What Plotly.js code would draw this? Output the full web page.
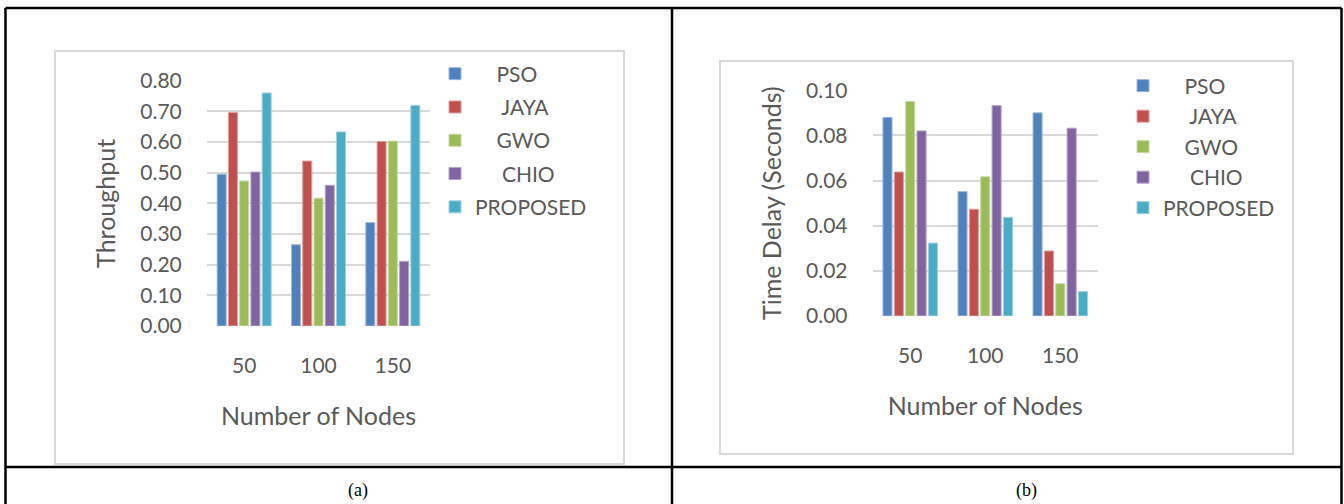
<!DOCTYPE html>
<html>
<head>
<meta charset="utf-8">
<script src="https://cdn.plot.ly/plotly-3.0.1.min.js"></script>
<style>
html,body{margin:0;padding:0;background:#fff;}
#chart{width:1344px;height:504px;}
</style>
</head>
<body>
<div id="chart"></div>
<script>
// ---- data ----
var nodes = ['50', '100', '150'];
var seriesNames = ['PSO', 'JAYA', 'GWO', 'CHIO', 'PROPOSED'];
var legendLabels = ['\u00a0\u00a0\u00a0\u00a0PSO', '\u00a0\u00a0\u00a0\u00a0\u00a0JAYA', '\u00a0\u00a0\u00a0\u00a0GWO', '\u00a0\u00a0\u00a0\u00a0\u00a0CHIO', 'PROPOSED'];

var thrPSO = [0.495, 0.265, 0.337];
var thrJAYA = [0.696, 0.538, 0.602];
var thrGWO = [0.473, 0.417, 0.603];
var thrCHIO = [0.502, 0.459, 0.211];
var thrPROPOSED = [0.760, 0.633, 0.719];

var delPSO = [0.0880, 0.0551, 0.0900];
var delJAYA = [0.0638, 0.0473, 0.0288];
var delGWO = [0.0950, 0.0617, 0.0143];
var delCHIO = [0.0820, 0.0932, 0.0832];
var delPROPOSED = [0.0323, 0.0437, 0.0108];

var captionA = '(a)';
var captionB = '(b)';

// ---- styling ----
var colors = ['#4F81BD', '#C0504D', '#9BBB59', '#8064A2', '#4BACC6'];
var edges = ['#9DB7DA', '#DE9E9C', '#C6DAA0', '#B4A3CA', '#9AD2E0'];
var textColor = '#595959';
var font = 'Lato, "Open Sans", sans-serif';
var W = 1344, H = 504;
function px(x) { return x / W; }
function py(y) { return 1 - y / H; }

var thr = [thrPSO, thrJAYA, thrGWO, thrCHIO, thrPROPOSED];
var del = [delPSO, delJAYA, delGWO, delCHIO, delPROPOSED];

var traces = [];
for (var i = 0; i < 5; i++) {
  traces.push({
    type: 'bar', x: nodes, y: thr[i], name: legendLabels[i],
    xaxis: 'x', yaxis: 'y', legend: 'legend', legendgroup: 'a' + i,
    marker: {color: colors[i], line: {color: edges[i], width: 1}},
    hoverinfo: 'y'
  });
}
for (var j = 0; j < 5; j++) {
  traces.push({
    type: 'bar', x: nodes, y: del[j], name: legendLabels[j],
    xaxis: 'x2', yaxis: 'y2', legend: 'legend2', legendgroup: 'b' + j,
    marker: {color: colors[j], line: {color: edges[j], width: 1}},
    hoverinfo: 'y'
  });
}

var tickFont = {family: font, size: 21, color: textColor};
var titleFont = {family: font, size: 25, color: textColor};

function xAxis(dom, anchor) {
  return {
    domain: dom, anchor: anchor, type: 'category', showgrid: false, zeroline: false, showline: false,
    ticks: 'outside', ticklen: 21, tickcolor: 'rgba(0,0,0,0)', tickfont: tickFont,
    title: {text: 'Number of Nodes', font: titleFont, standoff: 31},
    fixedrange: true
  };
}
function yAxis(dom, range, dtick, anchor, title) {
  return {
    domain: dom, range: range, dtick: dtick, tick0: 0, tickformat: '.2f',
    showgrid: true, gridcolor: '#D9D9D9', gridwidth: 2, zeroline: false, showline: false,
    ticks: 'outside', ticklen: 20, tickcolor: 'rgba(0,0,0,0)', tickfont: tickFont,
    title: {text: title, font: titleFont, standoff: 17}, anchor: anchor,
    fixedrange: true
  };
}

var shapes = [];
function rect(x0, y0, x1, y1, color, width) {
  shapes.push({type: 'rect', xref: 'paper', yref: 'paper', x0: px(x0), x1: px(x1), y0: py(y1), y1: py(y0),
    line: {color: color, width: width}, fillcolor: 'rgba(0,0,0,0)', layer: 'below'});
}
function line(x0, y0, x1, y1) {
  shapes.push({type: 'line', xref: 'paper', yref: 'paper', x0: px(x0), x1: px(x1), y0: py(y0), y1: py(y1),
    line: {color: '#000', width: 2.5}, layer: 'above'});
}
rect(55, 51, 624, 464, '#D9D9D9', 2);
rect(720, 61, 1293, 454, '#D9D9D9', 2);
line(5.5, 8, 1341.5, 8);
line(5.5, 8, 5.5, 504);
line(672, 8, 672, 504);
line(1341.5, 8, 1341.5, 504);
line(5.5, 467, 1341.5, 467);

var layout = {
  width: W, height: H,
  margin: {l: 0, r: 0, t: 0, b: 0},
  paper_bgcolor: '#fff', plot_bgcolor: 'rgba(0,0,0,0)',
  barmode: 'group', bargap: 0.243, bargroupgap: 0.2,
  xaxis: xAxis([px(207), px(430)], 'y'),
  yaxis: yAxis([py(326), py(80.7)], [0, 0.8], 0.1, 'x', 'Throughput'),
  xaxis2: xAxis([px(872.7), px(1097.8)], 'y2'),
  yaxis2: yAxis([py(316), py(90.3)], [0, 0.1], 0.02, 'x2', 'Time Delay (Seconds)'),
  legend: {x: px(435), y: py(53.5), xanchor: 'left', yanchor: 'top', bgcolor: 'rgba(0,0,0,0)',
    font: {family: font, size: 21, color: textColor}, tracegroupgap: 3.0, traceorder: 'grouped'},
  legend2: {x: px(1123), y: py(65.5), xanchor: 'left', yanchor: 'top', bgcolor: 'rgba(0,0,0,0)',
    font: {family: font, size: 21, color: textColor}, tracegroupgap: 0.2, traceorder: 'grouped'},
  shapes: shapes,
  annotations: [
    {text: captionA, xref: 'paper', yref: 'paper', x: px(358), y: py(490), showarrow: false,
      xanchor: 'center', yanchor: 'middle', font: {family: '"Liberation Serif", serif', size: 18, color: '#000'}},
    {text: captionB, xref: 'paper', yref: 'paper', x: px(1026), y: py(490), showarrow: false,
      xanchor: 'center', yanchor: 'middle', font: {family: '"Liberation Serif", serif', size: 18, color: '#000'}}
  ],
  showlegend: true
};

Plotly.newPlot('chart', traces, layout, {displayModeBar: false, staticPlot: true});
</script>
</body>
</html>
